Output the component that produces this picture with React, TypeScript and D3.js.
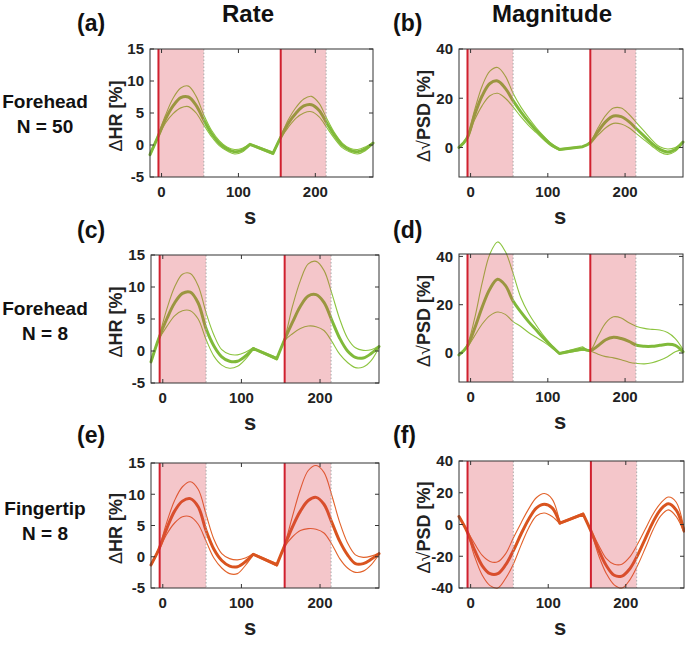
import React from "react";
import * as d3 from "d3";

// ---------- data ----------
const TIMES = [-15, -5, 5, 15, 25, 35, 45, 55, 65, 75, 85, 95, 105, 115, 145, 155, 165, 175, 185, 195, 205, 215, 225, 235, 245, 255, 265, 275];
const STIM_ONSETS = [-4, 155];
const STIM_DURATION = 59;
const X_DOMAIN = [-15, 275];
const X_TICKS = [0, 100, 200];

const RATE_DOMAIN = [-5, 15];
const RATE_TICKS = [-5, 0, 5, 10, 15];
const MAG_DOMAIN_B = [-12, 40];
const MAG_DOMAIN_D = [-12, 41];
const MAG_TICKS = [0, 20, 40];
const MAG_DOMAIN_F = [-40, 40];
const MAG_TICKS_F = [-40, -20, 0, 20, 40];

const COL_TITLES = ["Rate", "Magnitude"];
const ROW_TITLES = [["Forehead", "N = 50"], ["Forehead", "N = 8"], ["Fingertip", "N = 8"]];
const PANEL_LABELS = ["(a)", "(b)", "(c)", "(d)", "(e)", "(f)"];

const aMean = [-1.5, 1.2, 4.0, 6.1, 7.4, 7.5, 6.2, 3.9, 1.8, 0.3, -0.6, -1.05, -0.8, 0.1, -1.3, 1.2, 3.4, 5.0, 6.1, 6.3, 5.4, 3.4, 1.5, 0.0, -0.8, -1.05, -0.6, 0.3];
const aUpper = [-1.3, 1.4, 4.6, 7.3, 8.9, 9.2, 7.6, 4.7, 2.3, 0.7, -0.3, -0.7, -0.5, 0.2, -1.1, 1.4, 4.0, 5.9, 7.2, 7.6, 6.5, 4.1, 1.9, 0.3, -0.5, -0.7, -0.3, 0.4];
const aLower = [-1.7, 1.0, 3.4, 4.9, 5.8, 6.0, 5.0, 3.1, 1.3, -0.1, -0.9, -1.4, -1.1, 0.0, -1.5, 1.0, 2.8, 4.2, 5.0, 5.2, 4.4, 2.7, 1.0, -0.4, -1.1, -1.4, -0.9, 0.2];

const bMean = [0, 3.5, 13, 21, 26, 27, 24, 19, 14.5, 10.5, 7, 3.8, 1.0, -0.8, 0.3, 2.0, 6.5, 10.5, 12.8, 12.5, 10.5, 7.5, 4.5, 1.5, -0.8, -1.8, -0.8, 2.2];
const bUpper = [0.3, 4, 15, 25, 31, 32.5, 29, 22, 16.5, 12, 8, 4.5, 1.5, -0.5, 0.5, 2.3, 8, 13, 16, 16, 13.5, 10, 6.5, 3, 0.3, -0.6, 0, 2.5];
const bLower = [-0.3, 3, 11, 17, 21, 22, 20, 16.5, 12.5, 9, 6, 3, 0.5, -1.1, 0.1, 1.7, 5, 8, 9.8, 9.5, 8, 5.5, 3, 0.5, -1.8, -2.8, -1.6, 2.0];

const cMean = [-1.7, 2.0, 5.0, 7.5, 9.0, 9.2, 7.5, 3.5, 0.8, -0.9, -1.6, -1.6, -0.8, 0.4, -1.2, 1.8, 4.5, 7.0, 8.6, 8.8, 7.6, 4.8, 2.0, 0, -1.0, -1.1, -0.4, 0.7];
const cUpper = [-1.5, 2.2, 6.5, 10.0, 12.0, 12.1, 10.2, 6.0, 2.5, 0.2, -0.5, -0.6, -0.2, 0.5, -1.0, 2.0, 7.0, 11.0, 13.6, 14.0, 12.6, 9.0, 5.0, 2.0, 0.5, 0.1, 0.2, 0.8];
const cLower = [-1.9, 1.8, 3.8, 5.5, 6.3, 6.3, 5.0, 1.8, -0.8, -2.2, -2.7, -2.4, -1.3, 0.3, -1.4, 1.6, 2.7, 3.5, 3.9, 3.8, 3.2, 1.5, -0.5, -1.8, -2.6, -2.5, -1.5, 0.6];

const dMean = [-0.8, 2.5, 10, 19, 26.5, 30.5, 28, 21.5, 17, 13, 9.5, 6, 2.8, -0.2, 1.8, 1.0, 3.0, 5.5, 6.5, 6.0, 4.8, 3.2, 2.8, 2.8, 3.2, 3.6, 3.2, 0.5];
const dUpper = [-0.5, 3.0, 14, 29, 41, 46, 42, 33, 23, 16.5, 11.5, 7, 3.2, 0.0, 2.6, 1.3, 7, 12.5, 15.0, 14.5, 12.5, 11.0, 10.2, 9.8, 9.5, 8.5, 6.0, 1.5];
const dLower = [-1.0, 2.0, 7, 12, 15.5, 17, 16, 13, 11, 8.5, 6.5, 4.5, 2.2, -0.4, 1.2, 0.8, -0.5, -1.5, -2.0, -2.8, -3.8, -4.3, -4.5, -4.0, -3.0, -1.5, 0.5, 1.5];

const eMean = [-1.3, 1.2, 4.5, 7.3, 8.9, 9.3, 8.0, 4.2, 1.2, -0.6, -1.5, -1.6, -0.8, 0.4, -1.3, 1.8, 4.8, 7.3, 9.0, 9.5, 8.4, 5.5, 2.5, 0.3, -1.1, -1.1, -0.4, 0.5];
const eUpper = [-1.1, 1.4, 5.5, 9.0, 11.2, 12.0, 10.8, 6.8, 2.8, 0.5, -0.3, -0.5, -0.2, 0.5, -1.1, 2.0, 6.5, 10.8, 13.8, 14.6, 13.5, 9.8, 5.5, 2.2, 0.3, -0.1, 0.1, 0.6];
const eLower = [-1.5, 1.0, 3.6, 5.4, 6.4, 6.4, 5.2, 2.5, -0.2, -1.8, -2.7, -2.7, -1.4, 0.3, -1.5, 1.6, 3.2, 4.2, 4.5, 4.4, 3.8, 2.0, -0.3, -1.8, -2.5, -2.3, -1.3, 0.4];

const fMean = [5, -4, -16, -26, -31, -31, -25.5, -16.5, -6, 3.5, 10.5, 12.8, 10.5, 0.8, 6.6, -4, -16, -26, -32, -32.5, -28, -19.5, -9, 1.5, 9.5, 13, 9, -4];
const fUpper = [5.5, -3.5, -12, -19.5, -23.3, -23.5, -18.5, -8.5, 1, 10, 17, 19.5, 16, 1.2, 7.2, -3.5, -13, -21.5, -25, -25, -20.5, -12.5, -3, 6.5, 13.5, 17.3, 14, -3];
const fLower = [4.5, -4.5, -20, -32, -38.5, -40, -34, -25, -13, -2, 5.5, 7.2, 5, 0.4, 6.0, -4.5, -19.5, -31, -38, -40, -35, -26, -15, -3.5, 5.5, 9.2, 5, -5];

// ---------- styles ----------
const FONT = "'Liberation Sans', Arial, Helvetica, sans-serif";
const GREEN = "#8cc43f";
const GREEN_MEAN = "#80ba3a";
const ORANGE = "#e2622a";
const ORANGE_MEAN = "#d9541f";
const SHADE = "#d9434f";
const STIM_RED = "#d0202e";
const AXIS = "#333333";

type Box = { x0: number; x1: number; y0: number; y1: number };

function buildPath(xs: any, ys: any, vals: number[]) {
  const pts: [number, number][] = TIMES.map((t, i) => [xs(t), ys(vals[i])]);
  const gapIdx = TIMES.findIndex((t, i) => i > 0 && t - TIMES[i - 1] > 15);
  const gen = d3.line().curve(d3.curveCatmullRom.alpha(0.5));
  const a = gen(pts.slice(0, gapIdx)) as string;
  const b = gen(pts.slice(gapIdx)) as string;
  return a + "L" + b.slice(1);
}

function Panel(props: {
  box: Box;
  yDomain: number[];
  yTicks: number[];
  mean: number[];
  upper: number[];
  lower: number[];
  color: string;
  meanColor: string;
  label: string;
  labelX: number;
  labelY: number;
  magnitude: boolean;
  yLabelX: number;
  sX: number;
}) {
  const { box, yDomain, yTicks, mean, upper, lower, color, meanColor } = props;
  const xs = d3.scaleLinear().domain(X_DOMAIN).range([box.x0, box.x1]);
  const ys = d3.scaleLinear().domain(yDomain).range([box.y1, box.y0]);
  const tl = 4;
  const yc = (box.y0 + box.y1) / 2 + 3;
  return (
    <g>
      <rect x={box.x0} y={box.y0} width={box.x1 - box.x0} height={box.y1 - box.y0} fill="#fff" />
      {[upper, lower].map((v, i) => (
        <path key={i} d={buildPath(xs, ys, v)} fill="none" stroke={color} strokeWidth={1.1} strokeLinejoin="round" />
      ))}
      <path d={buildPath(xs, ys, mean)} fill="none" stroke={meanColor} strokeWidth={3} strokeLinejoin="round" strokeLinecap="round" />
      {STIM_ONSETS.map((t, i) => (
        <g key={i}>
          <rect x={xs(t)} y={box.y0} width={xs(t + STIM_DURATION) - xs(t)} height={box.y1 - box.y0} fill={SHADE} fillOpacity={0.3} />
          <line x1={xs(t)} x2={xs(t)} y1={box.y0} y2={box.y1} stroke={STIM_RED} strokeWidth={2} />
          <line x1={xs(t + STIM_DURATION)} x2={xs(t + STIM_DURATION)} y1={box.y0} y2={box.y1} stroke="#aaaaaa" strokeWidth={1} strokeDasharray="1.5,2" />
        </g>
      ))}
      <rect x={box.x0} y={box.y0} width={box.x1 - box.x0} height={box.y1 - box.y0} fill="none" stroke={AXIS} strokeWidth={1} />
      {X_TICKS.map((t) => (
        <g key={t}>
          <line x1={xs(t)} x2={xs(t)} y1={box.y1} y2={box.y1 - tl} stroke={AXIS} />
          <line x1={xs(t)} x2={xs(t)} y1={box.y0} y2={box.y0 + tl} stroke={AXIS} />
          <text x={xs(t)} y={box.y1 + 20} textAnchor="middle" fontSize={15} fontWeight="bold" fill="#222" fontFamily={FONT}>
            {t}
          </text>
        </g>
      ))}
      {yTicks.map((v) => (
        <g key={v}>
          <line x1={box.x0} x2={box.x0 + tl} y1={ys(v)} y2={ys(v)} stroke={AXIS} />
          <line x1={box.x1} x2={box.x1 - tl} y1={ys(v)} y2={ys(v)} stroke={AXIS} />
          <text x={box.x0 - 6} y={ys(v)} dy="0.36em" textAnchor="end" fontSize={15} fontWeight="bold" fill="#222" fontFamily={FONT}>
            {v}
          </text>
        </g>
      ))}
      <text transform={`translate(${props.yLabelX},${yc}) rotate(-90)`} textAnchor="middle" fontSize={18} fontWeight="bold" fill="#222" fontFamily={FONT}>
        {props.magnitude ? (
          <>
            <tspan fontWeight="normal">Δ√</tspan>
            <tspan>PSD [%]</tspan>
          </>
        ) : (
          <>
            <tspan fontWeight="normal">Δ</tspan>
            <tspan>HR [%]</tspan>
          </>
        )}
      </text>
      <text x={props.sX} y={box.y1 + 47} textAnchor="middle" fontSize={22} fontWeight="bold" fill="#222" fontFamily={FONT}>
        s
      </text>
      <text x={props.labelX} y={props.labelY} fontSize={23} fontWeight="bold" fill="#111" fontFamily={FONT}>
        {props.label}
      </text>
    </g>
  );
}

export default function App() {
  const boxes: Box[] = [
    { x0: 150, x1: 373, y0: 49, y1: 177 },
    { x0: 459, x1: 683, y0: 49, y1: 177 },
    { x0: 151, x1: 379, y0: 255, y1: 383 },
    { x0: 459, x1: 683, y0: 254, y1: 382 },
    { x0: 151, x1: 379, y0: 463, y1: 588 },
    { x0: 459, x1: 684, y0: 461, y1: 588 },
  ];
  const labelYs = [31, 31, 238, 238, 443, 443];
  const panels = [
    { yDomain: RATE_DOMAIN, yTicks: RATE_TICKS, mean: aMean, upper: aUpper, lower: aLower, green: true, mag: false },
    { yDomain: MAG_DOMAIN_B, yTicks: MAG_TICKS, mean: bMean, upper: bUpper, lower: bLower, green: true, mag: true },
    { yDomain: RATE_DOMAIN, yTicks: RATE_TICKS, mean: cMean, upper: cUpper, lower: cLower, green: true, mag: false },
    { yDomain: MAG_DOMAIN_D, yTicks: MAG_TICKS, mean: dMean, upper: dUpper, lower: dLower, green: true, mag: true },
    { yDomain: RATE_DOMAIN, yTicks: RATE_TICKS, mean: eMean, upper: eUpper, lower: eLower, green: false, mag: false },
    { yDomain: MAG_DOMAIN_F, yTicks: MAG_TICKS_F, mean: fMean, upper: fUpper, lower: fLower, green: false, mag: true },
  ];
  const rowBaselines = [108, 315, 515];
  return (
    <svg width={685} height={646} style={{ position: "absolute", left: 0, top: 0, background: "#fff" }}>
      <rect width={685} height={646} fill="#fff" />
      <text x={248} y={22} textAnchor="middle" fontSize={24} fontWeight="bold" fill="#111" fontFamily={FONT}>
        {COL_TITLES[0]}
      </text>
      <text x={552} y={22} textAnchor="middle" fontSize={24} fontWeight="bold" fill="#111" fontFamily={FONT}>
        {COL_TITLES[1]}
      </text>
      {ROW_TITLES.map((r, i) => (
        <g key={i}>
          <text x={45} y={rowBaselines[i]} textAnchor="middle" fontSize={19} fontWeight="bold" fill="#111" fontFamily={FONT}>
            {r[0]}
          </text>
          <text x={45} y={rowBaselines[i] + 25} textAnchor="middle" fontSize={19} fontWeight="bold" fill="#111" fontFamily={FONT}>
            {r[1]}
          </text>
        </g>
      ))}
      {panels.map((p, i) => {
        const left = i % 2 === 0;
        return (
          <Panel
            key={i}
            box={boxes[i]}
            yDomain={p.yDomain}
            yTicks={p.yTicks}
            mean={p.mean}
            upper={p.upper}
            lower={p.lower}
            color={p.green ? GREEN : ORANGE}
            meanColor={p.green ? GREEN_MEAN : ORANGE_MEAN}
            label={PANEL_LABELS[i]}
            labelX={left ? 77 : 393}
            labelY={labelYs[i]}
            magnitude={p.mag}
            yLabelX={left ? 122 : 430}
            sX={left ? 250 : 560}
          />
        );
      })}
    </svg>
  );
}
